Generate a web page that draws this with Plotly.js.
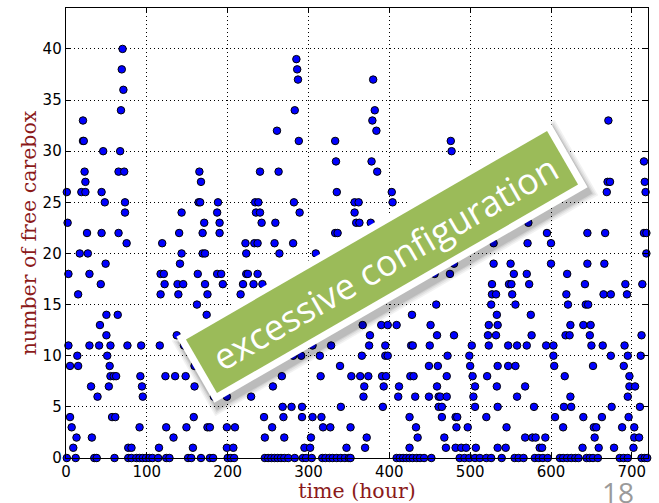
<!DOCTYPE html>
<html>
<head>
<meta charset="utf-8">
<script src="https://cdn.plot.ly/plotly-3.0.1.min.js"></script>
<style>
  html, body { margin: 0; padding: 0; background: #fff; }
  #chart { width: 659px; height: 503px; }
</style>
</head>
<body>
<div id="chart"></div>
<script>
// Free carebox count per hour, grouped by count value.
const y40 = [70];
const y39 = [285];
const y38 = [69, 286];
const y37 = [287, 380];
const y36 = [71];
const y34 = [68, 283, 382];
const y33 = [21, 379, 671];
const y32 = [261, 384];
const y31 = [21, 22, 288, 333, 476];
const y30 = [46, 67, 477];
const y29 = [334, 378, 715];
const y28 = [23, 65, 72, 165, 240, 263, 385];
const y27 = [24, 167, 670, 673, 716];
const y26 = [1, 19, 24, 44, 335, 403, 669, 717];
const y25 = [48, 73, 164, 166, 188, 234, 238, 282, 357, 362, 404];
const y24 = [73, 143, 187, 235, 240, 289, 357];
const y23 = [2, 171, 190, 242, 259, 359, 363, 377, 572];
const y22 = [26, 44, 65, 140, 169, 190, 333, 336, 595, 645, 667, 715, 718];
const y21 = [75, 119, 222, 233, 237, 258, 281, 529, 571, 600];
const y20 = [17, 27, 143, 169, 172, 223, 264, 309, 718];
const y19 = [49, 141, 480, 529, 550, 600, 645, 666];
const y18 = [3, 29, 117, 121, 163, 187, 192, 223, 225, 237, 456, 475, 554, 570, 620];
const y17 = [43, 122, 138, 145, 172, 194, 219, 232, 243, 527, 548, 551, 573, 642, 692, 713];
const y16 = [15, 117, 139, 175, 216, 527, 532, 552, 619, 665, 674, 694];
const y15 = [162, 458, 526, 556, 621, 643, 646];
const y14 = [50, 64, 174, 428, 533, 575];
const y13 = [42, 367, 390, 398, 409, 451, 523, 534, 624, 640, 649];
const y12 = [50, 137, 376, 459, 480, 522, 532, 576, 618, 623, 648, 712];
const y11 = [3, 29, 41, 55, 76, 93, 116, 146, 305, 328, 375, 395, 427, 429, 450, 502, 523, 547, 558, 570, 594, 603, 650, 664, 691];
const y10 = [14, 51, 281, 291, 314, 366, 395, 398, 472, 499, 603, 674, 695, 711];
const y9  = [5, 15, 54, 159, 339, 449, 460, 500, 534, 547, 556, 604, 652, 690];
const y8  = [55, 59, 62, 92, 123, 135, 148, 267, 315, 353, 364, 374, 391, 396, 426, 430, 471, 503, 521, 617, 697];
const y7  = [31, 53, 94, 159, 256, 369, 393, 412, 459, 506, 533, 568, 697, 704];
const y6  = [39, 95, 183, 199, 229, 368, 411, 432, 449, 461, 463, 471, 504, 558, 624, 695];
const y5  = [268, 279, 292, 340, 392, 461, 465, 506, 534, 579, 616, 625, 675, 710];
const y4  = [5, 57, 61, 158, 245, 269, 292, 305, 316, 425, 465, 482, 484, 520, 605, 640, 663, 696];
const y3  = [7, 91, 124, 149, 175, 178, 199, 209, 255, 318, 327, 352, 433, 483, 497, 545, 615, 653, 656, 688, 703];
const y2  = [13, 32, 133, 246, 270, 303, 372, 435, 468, 568, 577, 581, 593, 654, 703, 709];
const y1  = [9, 77, 81, 115, 157, 199, 207, 295, 302, 347, 370, 425, 470, 482, 489, 495, 507, 534, 544, 586, 589, 639, 659, 678, 702];
const y0  = [1, 12, 35, 38, 60, 77, 81, 87, 91, 95, 99, 103, 107, 114, 124, 128, 151, 155, 167,
             178, 182, 200, 204, 208, 246, 250, 254, 258, 262, 266, 270, 275, 283, 293, 297, 304,
             317, 321, 326, 330, 335, 340, 345, 350, 352, 409, 413, 417, 421, 425, 429, 434, 438,
             443, 452, 487, 493, 499, 506, 512, 520, 526, 539, 555, 560, 566, 580, 585, 590, 596,
             611, 615, 620, 625, 630, 634, 644, 648, 652, 658, 685, 690, 695, 712, 716, 719];

const byCount = {
  40: y40, 39: y39, 38: y38, 37: y37, 36: y36, 34: y34, 33: y33, 32: y32, 31: y31, 30: y30,
  29: y29, 28: y28, 27: y27, 26: y26, 25: y25, 24: y24, 23: y23, 22: y22, 21: y21, 20: y20,
  19: y19, 18: y18, 17: y17, 16: y16, 15: y15, 14: y14, 13: y13, 12: y12, 11: y11, 10: y10,
  9: y9, 8: y8, 7: y7, 6: y6, 5: y5, 4: y4, 3: y3, 2: y2, 1: y1, 0: y0
};

const hours = [];
const freeBoxes = [];
Object.keys(byCount).forEach(k => {
  byCount[k].forEach(h => { hours.push(h); freeBoxes.push(Number(k)); });
});

const xTicks = [0, 100, 200, 300, 400, 500, 600, 700];
const yTicks = [0, 5, 10, 15, 20, 25, 30, 35, 40];

const W = 659, H = 503;
const M = { l: 66, r: 11, t: 8, b: 45 };
const PW = W - M.l - M.r, PH = H - M.t - M.b;

// pixel -> paper coordinates for the decorative overlay
function px(x) { return (x - M.l) / PW; }
function py(y) { return (H - M.b - y) / PH; }

function rotRect(cx, cy, halfL, halfH, deg, dx, dy) {
  const t = deg * Math.PI / 180;
  const u = [Math.cos(t), -Math.sin(t)];
  const v = [Math.sin(t), Math.cos(t)];
  const pts = [[-1, -1], [1, -1], [1, 1], [-1, 1]].map(([a, b]) => [
    cx + dx + a * halfL * u[0] + b * halfH * v[0],
    cy + dy + a * halfL * u[1] + b * halfH * v[1]
  ]);
  return 'M ' + pts.map(p => px(p[0]).toFixed(5) + ',' + py(p[1]).toFixed(5)).join(' L ') + ' Z';
}

const bannerCx = 382, bannerCy = 262, bannerAngle = 30;
const shapes = [];
// soft shadow
[[14, 0.05], [10, 0.06], [6, 0.08], [3, 0.1]].forEach(([g, a]) => {
  shapes.push({ type: 'path', xref: 'paper', yref: 'paper', layer: 'above',
    path: rotRect(bannerCx, bannerCy, 215.5 + g * 0.4, 38 + g * 0.4, bannerAngle, 3, 6),
    fillcolor: 'rgba(0,0,0,' + a + ')', line: { width: 0 } });
});
// white frame
shapes.push({ type: 'path', xref: 'paper', yref: 'paper', layer: 'above',
  path: rotRect(bannerCx, bannerCy, 215.5, 38, bannerAngle, 0, 0),
  fillcolor: '#ffffff', line: { width: 0 } });
// green band
shapes.push({ type: 'path', xref: 'paper', yref: 'paper', layer: 'above',
  path: rotRect(bannerCx, bannerCy, 208.5, 31, bannerAngle, 0, 0),
  fillcolor: '#9bbb59', line: { width: 0 } });

const axisCommon = {
  showline: true, linecolor: '#000', linewidth: 1.3, mirror: 'ticks',
  ticks: 'inside', ticklen: 5, tickwidth: 1, tickcolor: '#000',
  showgrid: true, gridcolor: '#000', gridwidth: 1, griddash: '1px,3px',
  zeroline: false,
  tickfont: { family: 'DejaVu Sans', size: 15, color: '#000' }
};

const titleFont = { family: 'DejaVu Serif', size: 20.5, color: '#8b1a1a' };

const data = [{
  type: 'scatter', mode: 'markers',
  x: hours, y: freeBoxes,
  cliponaxis: false,
  marker: { color: '#0000ff', size: 7.5, line: { color: '#000', width: 1 } },
  hoverinfo: 'x+y'
}];

const layout = {
  width: W, height: H,
  margin: M,
  paper_bgcolor: '#fff', plot_bgcolor: '#fff',
  showlegend: false,
  xaxis: Object.assign({}, axisCommon, {
    range: [0, 720], tickvals: xTicks, ticktext: xTicks.map(String),
    title: { text: 'time (hour)', standoff: 2, font: titleFont }
  }),
  yaxis: Object.assign({}, axisCommon, {
    range: [0, 44], tickvals: yTicks, ticktext: yTicks.map(String),
    title: { text: 'number of free carebox', standoff: 0, font: titleFont }
  }),
  shapes: shapes,
  annotations: [
    { xref: 'paper', yref: 'paper', x: px(385), y: py(262),
      xanchor: 'center', yanchor: 'middle',
      text: 'excessive configuration', showarrow: false, textangle: -bannerAngle,
      font: { family: 'Open Sans', size: 36, color: '#ffffff' } },
    { xref: 'paper', yref: 'paper', x: px(618), y: py(492),
      xanchor: 'center', yanchor: 'middle',
      text: '18', showarrow: false,
      font: { family: 'Open Sans', size: 28, color: '#9a9a9a' } }
  ]
};

Plotly.newPlot('chart', data, layout, { staticPlot: true, displayModeBar: false });
</script>
</body>
</html>
